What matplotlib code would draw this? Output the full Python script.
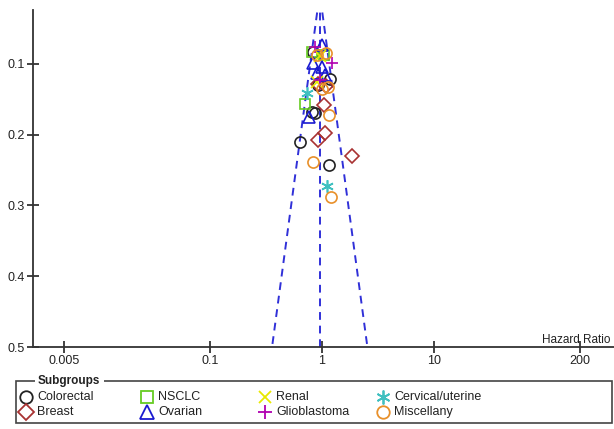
import numpy as np
import matplotlib
matplotlib.use('Agg')
import matplotlib.pyplot as plt
from matplotlib.patches import Rectangle

plt.rcParams['font.family'] = ['Liberation Sans', 'DejaVu Sans']

# hazard ratio / standard error per subgroup
groups = ['Colorectal', 'Breast', 'NSCLC', 'Ovarian', 'Renal', 'Glioblastoma', 'Cervical/uterine', 'Miscellany']
hr = {
    'Colorectal': [0.83, 1.18, 0.92, 0.81, 0.87, 0.64, 1.15],
    'Breast': [0.92, 1.09, 1.04, 1.06, 0.92, 1.85],
    'NSCLC': [0.81, 1.04, 0.70],
    'Ovarian': [1.00, 0.83, 1.00, 0.90, 1.06, 0.77],
    'Renal': [0.96, 0.90],
    'Glioblastoma': [0.87, 1.23, 0.96],
    'Cervical/uterine': [0.73, 1.11],
    'Miscellany': [0.90, 1.09, 1.00, 1.13, 1.15, 0.83, 1.20],
}
se = {
    'Colorectal': [0.083, 0.121, 0.130, 0.168, 0.169, 0.210, 0.243],
    'Breast': [0.128, 0.131, 0.158, 0.197, 0.207, 0.230],
    'NSCLC': [0.083, 0.087, 0.157],
    'Ovarian': [0.073, 0.099, 0.104, 0.113, 0.116, 0.175],
    'Renal': [0.089, 0.125],
    'Glioblastoma': [0.076, 0.099, 0.123],
    'Cervical/uterine': [0.141, 0.272],
    'Miscellany': [0.087, 0.084, 0.135, 0.133, 0.172, 0.238, 0.288],
}
pooled_hr = 0.955

asterisk = (6, 2, 0)
markers = {'Colorectal': 'o', 'Breast': 'D', 'NSCLC': 's', 'Ovarian': '^',
           'Renal': 'x', 'Glioblastoma': '+', 'Cervical/uterine': asterisk, 'Miscellany': 'o'}
colors = {'Colorectal': '#222222', 'Breast': '#a83232', 'NSCLC': '#66cc22', 'Ovarian': '#1a1ad0',
          'Renal': '#e8e800', 'Glioblastoma': '#b000b0', 'Cervical/uterine': '#40c0c0', 'Miscellany': '#e8902a'}
sizes = {'Colorectal': 8, 'Breast': 7.5, 'NSCLC': 7.5, 'Ovarian': 9,
         'Renal': 8, 'Glioblastoma': 9, 'Cervical/uterine': 9, 'Miscellany': 8}
line_marks = ['Renal', 'Glioblastoma', 'Cervical/uterine']

fig = plt.figure(figsize=(6.14, 4.29), dpi=100)
ax = fig.add_axes([33/614, 1-347/429, 1-33/614, 337/429])

# funnel
s = np.array([0.0, 0.5])
lp = np.log(pooled_hr)
fc = '#3030d8'
ax.plot(np.exp(lp - 1.96*s), s, ls='--', color=fc, lw=1.4, dashes=(4, 3))
ax.plot(np.exp(lp + 1.96*s), s, ls='--', color=fc, lw=1.4, dashes=(4, 3))
ax.plot([pooled_hr, pooled_hr], s, ls='--', color=fc, lw=1.4, dashes=(4, 3))

for g in groups:
    m = markers[g]
    if g in line_marks:
        kw = dict(color=colors[g], mew=1.2)
    else:
        kw = dict(mfc='none', mec=colors[g], mew=1.2)
    ax.plot(hr[g], se[g], ls='none', marker=m, ms=sizes[g], **kw)

ax.set_xscale('log')
ax.set_xlim(0.00263, 405)
ax.set_ylim(0.5, 0.0237)
ax.set_xticks([0.005, 0.1, 1, 10, 200])
ax.set_xticklabels(['0.005', '0.1', '1', '10', '200'])
ax.xaxis.set_minor_locator(matplotlib.ticker.NullLocator())
ax.set_yticks([0.1, 0.2, 0.3, 0.4, 0.5])
ax.set_yticklabels(['0.1', '0.2', '0.3', '0.4', '0.5'])
ax.tick_params(direction='inout', length=8, width=1.2, labelsize=9, colors='#222222', pad=2)
for sp in ['top', 'right']:
    ax.spines[sp].set_visible(False)
for sp in ['left', 'bottom']:
    ax.spines[sp].set_linewidth(1.3)
    ax.spines[sp].set_color('#333333')
fig.text(611/614, 1-340/429, 'Hazard Ratio', ha='right', va='center', fontsize=8.5, color='#222222')

# legend box in fieldset style
fig.add_artist(Rectangle((16/614, 1-423/429), 596/614, 42/429, transform=fig.transFigure,
                         fill=False, edgecolor='#444444', lw=1.2))
fig.text(38/614, 1-381/429, 'Subgroups', fontsize=8.5, fontweight='bold', ha='left', va='center',
         color='#222222', bbox=dict(facecolor='white', edgecolor='none', pad=2.5))
lax = fig.add_axes([0, 0, 1, 1])
lax.set_xlim(0, 614)
lax.set_ylim(429, 0)
lax.axis('off')
col_x = [26, 147, 265, 383]
row_y = [397, 412]
for i, g in enumerate(groups):
    x = col_x[i // 2]
    y = row_y[i % 2]
    m = markers[g]
    if g in line_marks:
        kw = dict(color=colors[g], mew=1.3)
    else:
        kw = dict(mfc='none', mec=colors[g], mew=1.3)
    lax.plot([x], [y], ls='none', marker=m, ms=sizes[g] + 1.0, **kw)
    lax.text(x + 11, y, g, fontsize=9, va='center', ha='left', color='#222222')

fig.savefig('out.png', dpi=100)
